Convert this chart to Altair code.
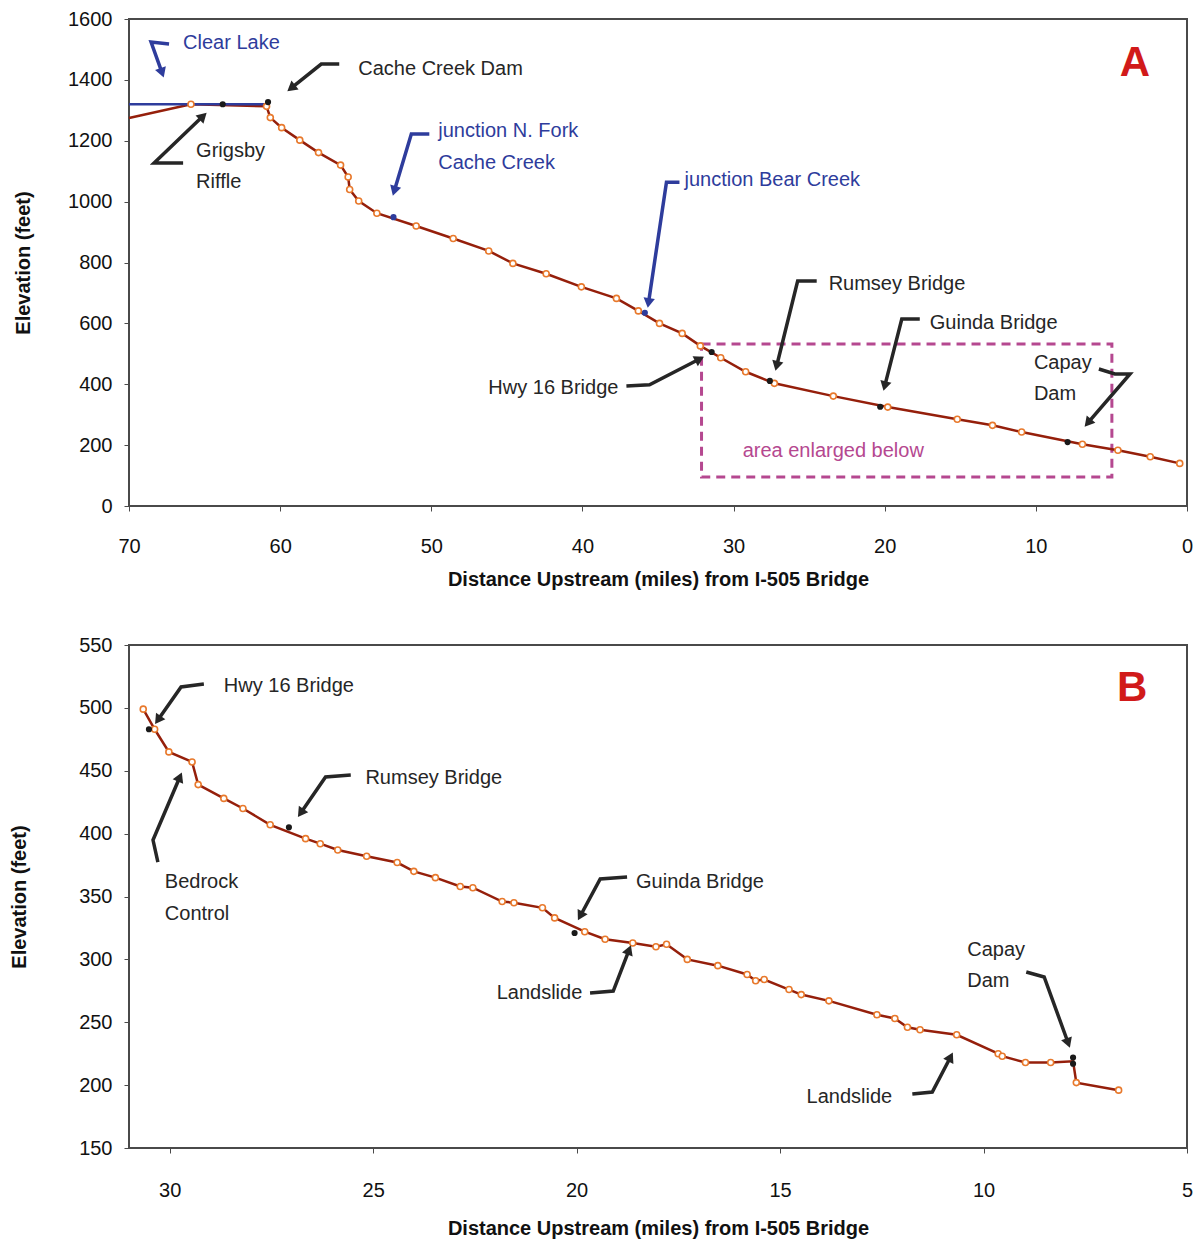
import altair as alt
import pandas as pd

FONT = "Liberation Sans"
RED = "#951f0b"
ORANGE = "#e8792c"
BLUE = "#2e3c9c"
DARK = "#262626"
MAGENTA = "#b54890"
LETTER = "#d11a1a"

# ---------------- Panel A data ----------------
top_dist = [70.0, 65.9, 60.9, 60.65, 59.9, 58.7, 57.46, 56.0, 55.5, 55.4, 54.8, 53.6, 51.0,
            48.55, 46.2, 44.6, 42.4, 40.07, 37.75, 36.3, 34.9, 33.4, 32.2, 30.85, 29.2, 27.3,
            23.4, 19.8, 15.2, 12.87, 10.94, 6.92, 4.57, 2.43, 0.48]
top_elev = [1275, 1320, 1313, 1276, 1243, 1202, 1161, 1120, 1081, 1040, 1002, 962, 920,
            879, 838, 797, 763, 720, 682, 641, 600, 567, 526, 487, 441, 403,
            361, 325, 285, 265, 243, 203, 183, 162, 140]
top_landmark_dist = [63.8, 60.8, 31.45, 27.6, 20.3, 7.9]
top_landmark_elev = [1320, 1327, 506, 411, 326, 210]
top_junction_dist = [52.5, 35.87]
top_junction_elev = [949, 635]
lake_dist = [70.0, 60.8]
lake_elev = [1320, 1320]
box_dist = [32.12, 4.97]
box_elev = [95, 532]

top_text = ["Clear Lake", "Cache Creek Dam", "Grigsby", "Riffle", "junction N. Fork",
            "Cache Creek", "junction Bear Creek", "Rumsey Bridge", "Guinda Bridge",
            "Capay", "Dam", "area enlarged below"]
top_text_x = [66.42, 54.83, 65.56, 65.56, 49.54, 49.54, 33.25, 23.71, 17.02, 10.13, 10.13, 29.4]
top_text_y = [1521, 1436, 1166, 1064, 1232, 1127, 1071, 729, 601, 470, 368, 181]
top_text_color = [BLUE, DARK, DARK, DARK, BLUE, BLUE, BLUE, DARK, DARK, DARK, DARK, MAGENTA]
top_rtext = ["Hwy 16 Bridge"]
top_rtext_x = [37.62]
top_rtext_y = [388]

top_arrow_x = [[67.35, 68.54, 67.81], [56.09, 57.28, 59.27], [66.42, 68.34, 65.10],
               [50.13, 51.32, 52.45], [33.58, 34.44, 35.63], [24.50, 25.76, 27.15],
               [17.68, 18.87, 20.0], [37.09, 35.56, 32.25], [5.83, 4.77, 3.77, 6.56]]
top_arrow_y = [[1518, 1524, 1423], [1452, 1452, 1373], [1127, 1127, 1281],
               [1222, 1222, 1035], [1064, 1064, 667], [739, 739, 460],
               [614, 614, 394], [394, 398, 483], [450, 434, 434, 273]]
top_arrow_color = [BLUE, DARK, DARK, BLUE, BLUE, DARK, DARK, DARK, DARK]
top_arrow_angle = [160.5, 231.3, 46.2, 196.6, 188.5, 193.9, 194.2, 62.5, 220.6]

# ---------------- Panel B data ----------------
bot_dist = [30.65, 30.37, 30.02, 29.45, 29.3, 28.67, 28.2, 27.53, 26.66, 26.3, 25.87, 25.16,
            24.41, 24.0, 23.47, 22.86, 22.55, 21.83, 21.54, 20.84, 20.54, 19.8, 19.3, 18.62,
            18.05, 17.79, 17.28, 16.53, 15.81, 15.6, 15.39, 14.78, 14.48, 13.8, 12.62, 12.18,
            11.87, 11.56, 10.66, 9.64, 9.54, 8.97, 8.35, 7.8, 7.72, 6.68]
bot_elev = [499, 483, 465, 457, 439, 428, 420, 407, 396, 392, 387, 382,
            377, 370, 365, 358, 357, 346, 345, 341, 333, 322, 316, 313,
            310, 312, 300, 295, 288, 283, 284, 276, 272, 267, 256, 253,
            246, 244, 240, 225, 223, 218, 218, 219, 202, 196]
bot_marker = [True] * 43 + [False, True, True]
bot_landmark_dist = [30.51, 27.07, 20.05, 7.8, 7.8]
bot_landmark_elev = [483, 405, 321, 217, 222]

bot_text = ["Hwy 16 Bridge", "Rumsey Bridge", "Bedrock", "Control", "Guinda Bridge",
            "Capay", "Dam", "Landslide"]
bot_text_x = [28.67, 25.19, 30.12, 30.12, 18.54, 10.4, 10.4, 14.35]
bot_text_y = [517.4, 444.2, 361.5, 336.1, 361.5, 307.5, 282.8, 190.6]
bot_rtext = ["Landslide"]
bot_rtext_x = [19.86]
bot_rtext_y = [273.3]

bot_arrow_x = [[29.16, 29.72, 30.29], [25.55, 26.17, 26.78], [30.29, 30.41, 29.75],
               [18.76, 19.42, 19.91], [19.67, 19.10, 18.71], [8.95, 8.51, 7.92],
               [11.75, 11.26, 10.81]]
bot_arrow_y = [[519.0, 516.6, 490.3], [446.6, 445.0, 416.4], [377.4, 394.9, 445.0],
               [365.5, 363.9, 334.5], [273.3, 274.8, 307.5], [290.0, 286.0, 233.5],
               [192.9, 194.5, 222.4]]
bot_arrow_angle = [214.9, 214.8, 23.2, 208.4, 21.3, 160.0, 27.2]


def arrow_frames(xs, ys, colors, angles):
    rows, heads = [], []
    for i, (ax, ay) in enumerate(zip(xs, ys)):
        for j, (px, py) in enumerate(zip(ax, ay)):
            rows.append({"x": px, "y": py, "id": i, "seq": j, "col": colors[i]})
        heads.append({"x": ax[-1], "y": ay[-1], "angle": angles[i], "col": colors[i]})
    return pd.DataFrame(rows), pd.DataFrame(heads)


def encoders(xdom, xticks, ydom, yticks, xtitle, xlabpad, xtitpad, ytitpad):
    X = alt.X("x:Q", scale=alt.Scale(domain=xdom, nice=False, zero=False),
              axis=alt.Axis(values=xticks, title=xtitle, grid=False, labelPadding=xlabpad,
                            titlePadding=xtitpad, tickSize=5, format="d", labelFlush=False))
    Y = alt.Y("y:Q", scale=alt.Scale(domain=ydom, nice=False, zero=False),
              axis=alt.Axis(values=yticks, title="Elevation (feet)", grid=False,
                            labelPadding=12, titlePadding=ytitpad, tickSize=5, format="d",
                            labelFlush=False))
    return X, Y


def panel(X, Y, line_df, marker_df, landmark_df, text_df, rtext_df, arrows, heads,
          letter, letter_pos, width, height, before=(), after_line=()):
    layers = list(before)
    layers.append(alt.Chart(line_df).mark_line(color=RED, strokeWidth=2.5)
                  .encode(x=X, y=Y, order="seq:Q"))
    layers.extend(after_line)
    layers.append(alt.Chart(marker_df).mark_circle(fill="white", stroke=ORANGE, strokeWidth=1.6,
                                                   size=36, opacity=1)
                  .encode(x=X, y=Y))
    layers.append(alt.Chart(landmark_df).mark_circle(color="#1a1a1a", size=38, opacity=1)
                  .encode(x=X, y=Y))
    layers.append(alt.Chart(arrows).mark_line(strokeWidth=3.5, strokeCap="butt",
                                               strokeJoin="miter")
                  .encode(x=X, y=Y, detail="id:N", order="seq:Q",
                          color=alt.Color("col:N", scale=None)))
    layers.append(alt.Chart(heads).mark_point(shape="triangle-up", filled=True, size=130,
                                               opacity=1)
                  .encode(x=X, y=Y, angle=alt.Angle("angle:Q", scale=None),
                          color=alt.Color("col:N", scale=None)))
    layers.append(alt.Chart(text_df).mark_text(align="left", baseline="middle", fontSize=20,
                                               font=FONT)
                  .encode(x=X, y=Y, text="text:N", color=alt.Color("col:N", scale=None)))
    layers.append(alt.Chart(rtext_df).mark_text(align="right", baseline="middle", fontSize=20,
                                                font=FONT, color=DARK)
                  .encode(x=X, y=Y, text="text:N"))
    layers.append(alt.Chart(pd.DataFrame({"x": [letter_pos[0]], "y": [letter_pos[1]],
                                          "text": [letter]}))
                  .mark_text(align="center", baseline="middle", fontSize=42, fontWeight="bold",
                             font=FONT, color=LETTER)
                  .encode(x=X, y=Y, text="text:N"))
    return alt.layer(*layers).properties(width=width, height=height)


# ---- Panel A frames
top_line = pd.DataFrame({"x": top_dist, "y": top_elev, "seq": range(len(top_dist))})
top_markers = top_line.iloc[1:]
top_land = pd.DataFrame({"x": top_landmark_dist, "y": top_landmark_elev})
top_junc = pd.DataFrame({"x": top_junction_dist, "y": top_junction_elev})
lake = pd.DataFrame({"x": lake_dist, "y": lake_elev})
box = pd.DataFrame({"x": [box_dist[0]], "x2": [box_dist[1]], "y": [box_elev[0]],
                    "y2": [box_elev[1]]})
top_txt = pd.DataFrame({"x": top_text_x, "y": top_text_y, "text": top_text, "col": top_text_color})
top_rtxt = pd.DataFrame({"x": top_rtext_x, "y": top_rtext_y, "text": top_rtext})
top_arr, top_heads = arrow_frames(top_arrow_x, top_arrow_y, top_arrow_color, top_arrow_angle)

XA, YA = encoders([70, 0], list(range(70, -1, -10)), [0, 1600], list(range(0, 1601, 200)),
                  "Distance Upstream (miles) from I-505 Bridge", 25, 13, 34)
box_layer = (alt.Chart(box).mark_rect(fill=None, stroke=MAGENTA, strokeWidth=3,
                                      strokeDash=[9, 6])
             .encode(x=XA, x2="x2:Q", y=YA, y2="y2:Q"))
lake_layer = alt.Chart(lake).mark_line(color=BLUE, strokeWidth=2.5).encode(x=XA, y=YA)
junc_layer = alt.Chart(top_junc).mark_circle(color=BLUE, size=38, opacity=1).encode(x=XA, y=YA)

chart_a = panel(XA, YA, top_line, top_markers, top_land, top_txt, top_rtxt, top_arr, top_heads,
                "A", (3.44, 1455), 1058, 487,
                before=[box_layer], after_line=[lake_layer, junc_layer])

# ---- Panel B frames
bot_line = pd.DataFrame({"x": bot_dist, "y": bot_elev, "seq": range(len(bot_dist)),
                         "m": bot_marker})
bot_markers = bot_line[bot_line["m"]][["x", "y"]]
bot_land = pd.DataFrame({"x": bot_landmark_dist, "y": bot_landmark_elev})
bot_txt = pd.DataFrame({"x": bot_text_x, "y": bot_text_y, "text": bot_text,
                        "col": [DARK] * len(bot_text)})
bot_rtxt = pd.DataFrame({"x": bot_rtext_x, "y": bot_rtext_y, "text": bot_rtext})
bot_arr, bot_heads = arrow_frames(bot_arrow_x, bot_arrow_y, [DARK] * len(bot_arrow_x),
                                  bot_arrow_angle)

XB, YB = encoders([31, 5], list(range(30, 4, -5)), [150, 550], list(range(150, 551, 50)),
                  "Distance Upstream (miles)  from I-505 Bridge", 27, 18, 49)
chart_b = panel(XB, YB, bot_line[["x", "y", "seq"]], bot_markers, bot_land, bot_txt,
                bot_rtxt, bot_arr, bot_heads, "B", (6.35, 515.8), 1058, 503)

chart = alt.vconcat(chart_a, chart_b, spacing=44).properties(
    padding={"left": 8, "top": 8, "right": 4, "bottom": 2},
    background="white",
).configure_view(stroke="#4a4a4a", strokeWidth=2).configure_axis(
    labelFont=FONT, titleFont=FONT, labelFontSize=20, titleFontSize=20,
    titleFontWeight="bold", labelColor="#111", titleColor="#111",
    domainColor="#4a4a4a", tickColor="#4a4a4a"
)

chart.save("out.html", embed_options={"renderer": "svg", "actions": False})
